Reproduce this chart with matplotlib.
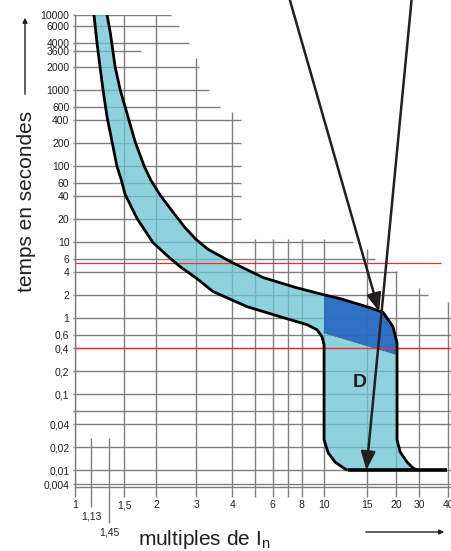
import numpy as np
import matplotlib
matplotlib.use('Agg')
import matplotlib.pyplot as plt
from matplotlib.patches import FancyArrowPatch
from matplotlib.ticker import FixedLocator, NullLocator

plt.rcParams['font.family'] = ['Liberation Sans', 'DejaVu Sans']

# horizontal gridlines (seconds), their labels and where each one stops (x In)
y_grid = [10000, 6000, 4000, 3600, 2000, 1000, 600, 400, 200, 100, 60, 40, 20,
          10, 6, 4, 2, 1, 0.6, 0.4, 0.2, 0.1, 0.06, 0.04, 0.02, 0.01, 0.004]
y_labels = ['10000', '6000', '4000', '3600', '2000', '1000', '600', '400', '200',
            '100', '60', '40', '20', '10', '6', '4', '2', '1', '0,6', '0,4',
            '0,2', '0,1', '', '0,04', '0,02', '0,01', '0,004']
y_grid_end = [2.33, 2.53, 2.79, 1.75, 3.07, 3.33, 3.63, 4.38, 4.38, 4.38, 4.38,
              4.38, 4.38, 13.1, 16.2, 20.4, 32.8] + [None] * 10

# vertical gridlines (multiples of In) and where each one starts at the top (s)
x_grid = [1, 1.5, 2, 3, 4, 5, 6, 7, 8, 10, 15, 20, 30, 40]
x_labels = ['1', '1,5', '2', '3', '4', '', '6', '', '8', '10', '15', '20', '30', '40']
x_grid_top = [10000, 10000, 10000, 2800, 510, 11, 11, 11, 11, 11, 8, 4.2, 2.5, 1.6]

# conventional currents 1,13 / 1,45
x_extra = [1.13, 1.45]
x_extra_labels = ['1,13', '1,45']
x_extra_top = 0.026

# upper (max. tripping time) curve
upper_x = [1.41, 1.454, 1.47, 1.487, 1.555, 1.66, 1.80, 1.91, 2.08, 2.38, 2.68,
           3.0, 3.3, 4.0, 5.45, 7.6, 9.9, 11.6, 15.4, 17.6, 19.4, 20.36, 20.36,
           21.5, 24.3, 27.0, 28.9]
upper_y = [10000, 5100, 2000, 1000, 440, 205, 99, 65, 42, 24.5, 15.5,
           10.8, 8.0, 5.36, 3.4, 2.5, 2.03, 1.8, 1.37, 1.18, 0.77, 0.47, 0.025,
           0.0173, 0.0127, 0.0106, 0.01]

# lower (min. tripping time) curve
lower_x = [1.178, 1.228, 1.28, 1.334, 1.41, 1.46, 1.476, 1.490, 1.514, 1.686,
           1.946, 2.236, 2.55, 3.02, 3.44, 4.64, 6.45, 8.44, 9.33, 9.8, 10.0, 10.0,
           10.4, 11.1, 12.2, 12.5]
lower_y = [10000, 4000, 2000, 1000, 440, 205, 99, 66.7, 42.3, 20.4,
           9.84, 6.64, 4.75, 3.3, 2.22, 1.41, 1.04, 0.817, 0.70, 0.568, 0.445, 0.025,
           0.0168, 0.0127, 0.0103, 0.01]

# instantaneous floor and the darker magnetic zone
floor_x = [12.5, 39.6]
floor_y = 0.01
dark_x = [10, 11.6, 15.4, 17.6, 19.4, 20.36, 20.36, 10]
dark_y = [2.02, 1.80, 1.37, 1.18, 0.77, 0.47, 0.33, 0.64]

# red reference times
red_y = [5.3, 0.4]
red_end = [37.3, None]

# pointer arrows: tail x (at the top of the figure) and tip
arrow_tail_x = [7.0, 26.5]
arrow_tip = [(16.9, 1.21), (14.9, 0.01)]

curve_label = ('D', 14.0, 0.14)


def ext_interp(t, xp, fp):
    t = np.asarray(t, dtype=float)
    out = np.interp(t, xp, fp)
    lo = (fp[1] - fp[0]) / (xp[1] - xp[0])
    hi = (fp[-1] - fp[-2]) / (xp[-1] - xp[-2])
    out = np.where(t < xp[0], fp[0] + (t - xp[0]) * lo, out)
    out = np.where(t > xp[-1], fp[-1] + (t - xp[-1]) * hi, out)
    return out


def drawn_log_scale(vals, pos):
    """log axis as printed on the chart: decades are not all the same length"""
    lv = np.log10(vals)

    def fwd(v):
        v = np.maximum(np.asarray(v, dtype=float), 1e-300)
        return ext_interp(np.log10(v), lv, pos)

    def inv(p):
        return 10 ** ext_interp(p, pos, lv)

    return fwd, inv


GRID = '#7f7f7f'
INK = '#231f20'

fig = plt.figure(figsize=(4.52, 5.51), dpi=100)
ax = fig.add_axes([75 / 452, 64 / 551, 377 / 452, 472 / 551])

ax.set_xscale('function', functions=drawn_log_scale(
    [1, 1.13, 1.45, 1.5, 2, 3, 4, 10, 15, 20, 30, 40],
    [0, 0.064, 0.137, 0.197, 0.325, 0.486, 0.631, 1.0, 1.173, 1.289, 1.382, 1.498]))
ax.set_yscale('function', functions=drawn_log_scale(
    [0.004, 0.01, 2000, 3600, 4000, 6000, 10000],
    [-2.185, -2, 3.314, 3.525, 3.631, 3.855, 4]))
ax.set_xlim(1, 41.6)
ax.set_ylim(0.0033, 10000)
x_right = ax.get_xlim()[1]
y_bottom = ax.get_ylim()[0]

# staircase grid
ends = [e if e is not None else x_right for e in y_grid_end]
ax.hlines(y_grid, 1, ends, color=GRID, lw=1.0, zorder=1)
ax.vlines(x_grid, y_bottom, x_grid_top, color=GRID, lw=1.0, zorder=1)
ax.vlines(x_extra, y_bottom, x_extra_top, color=GRID, lw=1.0, zorder=1)
ax.vlines(x_extra, [-0.043, -0.077], 0, color=GRID, lw=1.0, zorder=1,
          transform=ax.get_xaxis_transform(), clip_on=False)
for xv, lab, yf in zip(x_extra, x_extra_labels, [-0.062, -0.096]):
    ax.text(xv, yf, lab, transform=ax.get_xaxis_transform(), ha='center',
            va='center', fontsize=7.5, color=INK)

# tripping band
ax.fill(upper_x + lower_x[::-1], upper_y + lower_y[::-1], color='#6ac4d4',
        alpha=0.75, lw=0, zorder=2)
ax.fill(dark_x, dark_y, color='#1f5fbd', alpha=0.85, lw=0, zorder=2)
ax.plot(dark_x[-3:], dark_y[-3:], color='#3c6aa0', lw=0.7, zorder=3)

for yv, e in zip(red_y, red_end):
    ax.hlines(yv, 1, e if e is not None else x_right, color='#ff2b2b', lw=0.9, zorder=3)

ax.plot(upper_x, upper_y, color='black', lw=2.0, zorder=4, solid_capstyle='butt')
ax.plot(lower_x, lower_y, color='black', lw=2.0, zorder=4, solid_capstyle='butt')
ax.hlines(floor_y, floor_x[0], floor_x[1], color='black', lw=2.6, zorder=4)

ax.text(curve_label[1], curve_label[2], curve_label[0], fontsize=14,
        fontweight='bold', color=INK, ha='center', va='center', zorder=5)

for tx, tip in zip(arrow_tail_x, arrow_tip):
    ax.annotate('', xy=tip, xytext=(tx, 1.01), textcoords=('data', 'figure fraction'),
                annotation_clip=False, zorder=6,
                arrowprops=dict(arrowstyle='-|>,head_length=0.55,head_width=0.22',
                                mutation_scale=20, color=INK, lw=1.8,
                                shrinkA=0, shrinkB=0))

# axes and ticks
for s in ['top', 'right']:
    ax.spines[s].set_visible(False)
for s in ['left', 'bottom']:
    ax.spines[s].set_color(GRID)
    ax.spines[s].set_linewidth(1.0)

ax.xaxis.set_major_locator(FixedLocator(x_grid))
ax.set_xticklabels(x_labels)
ax.xaxis.set_minor_locator(NullLocator())
ax.yaxis.set_major_locator(FixedLocator(y_grid))
ax.set_yticklabels(y_labels)
ax.yaxis.set_minor_locator(NullLocator())
ax.tick_params(axis='x', direction='out', length=7.2, width=1.0, color=GRID,
               pad=2.5, labelsize=7.5, labelcolor=INK)
ax.tick_params(axis='y', direction='out', length=1.5, width=1.0, color=GRID,
               pad=2.5, labelsize=7.5, labelcolor=INK)

fig.text(27 / 452, 1 - 201 / 551, 'temps en secondes', rotation=90,
         ha='center', va='center', fontsize=15, color=INK)
fig.text(204 / 452, 6 / 551, r'multiples de $\mathregular{I_n}$',
         ha='center', va='baseline', fontsize=15, color=INK)

fig.add_artist(FancyArrowPatch(
    (25 / 452, 1 - 97 / 551), (25 / 452, 1 - 15 / 551), transform=fig.transFigure,
    arrowstyle='-|>', mutation_scale=7, color=INK, lw=1.0))
fig.add_artist(FancyArrowPatch(
    (363 / 452, 1 - 532 / 551), (447 / 452, 1 - 532 / 551), transform=fig.transFigure,
    arrowstyle='-|>', mutation_scale=7, color=INK, lw=1.0))

fig.savefig('out.png', dpi=100)
